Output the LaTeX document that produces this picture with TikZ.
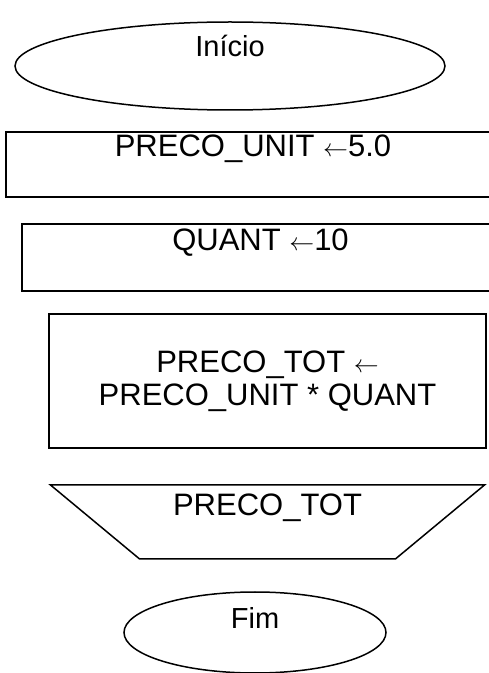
\documentclass[tikz,border=0pt]{standalone}
\usepackage{fontspec}
\setmainfont{Liberation Sans}
\usepackage{tikz}
\usetikzlibrary{shapes.geometric}

\begin{document}
\begin{tikzpicture}[x=1pt,y=1pt,font=\fontsize{29}{33}\selectfont]
    \tikzstyle{termnode}=[ellipse,draw,line width=1.5pt,inner sep=0pt,%
    text height=21pt] %
    \tikzstyle{procnode}=[rectangle,draw,line width=1.5pt,inner sep=0pt,%
    font=\fontsize{31}{33}\selectfont] %
    \tikzstyle{outnode}=[trapezium,draw,line width=1.5pt,inner sep=0pt,%
    shape border rotate=180,trapezium stretches=true,%
    trapezium left angle=40.4,trapezium right angle=40.4,text height=22pt,%
    font=\fontsize{31}{33}\selectfont] %

    \useasboundingbox (0,0) rectangle (489,673);
    \clip (0,0) rectangle (489,673);

    \node[termnode,minimum width=430,minimum height=88,text depth=39pt]%
        (INIT) at (230, 607) {Início};
    \node[procnode,minimum width=494,minimum height=65,text height=22pt,%
        text depth=38pt] (UNIT) at (253, 508.5) {PRECO\_UNIT $\leftarrow$5.0};
    \node[procnode,minimum width=477,minimum height=67,text height=22pt,%
        text depth=35pt] (QUANT) at (260.5, 415.5) {QUANT $\leftarrow$10};
    \node[procnode,minimum width=437,minimum height=134,align=center]%
        (TOT) at (267.5, 292) {PRECO\_TOT $\leftarrow$\\PRECO\_UNIT * QUANT};
    \node[outnode,minimum width=435,minimum height=74,text depth=34pt]%
        (OUT) at (267.5, 151) {PRECO\_TOT};
    \node[termnode,minimum width=262,minimum height=81,text depth=29pt]%
        (FIM) at (255, 40.5) {Fim};
  \end{tikzpicture}
\end{document}
